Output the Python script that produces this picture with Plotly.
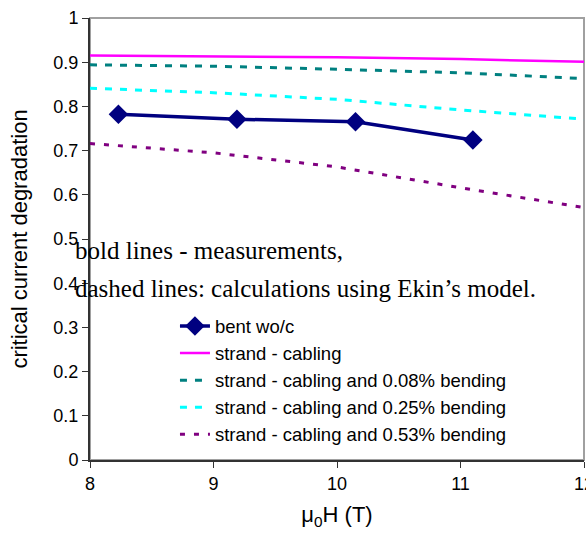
import plotly.graph_objects as go

# Data
bent_x = [8.23, 9.19, 10.15, 11.10]
bent_y = [0.782, 0.771, 0.765, 0.724]

calc_x = [8, 9, 10, 11, 12]
cabling_y = [0.915, 0.913, 0.911, 0.907, 0.901]
bend008_y = [0.894, 0.891, 0.884, 0.876, 0.863]
bend025_y = [0.841, 0.831, 0.816, 0.792, 0.771]
bend053_y = [0.716, 0.695, 0.663, 0.616, 0.571]

names = ["bent wo/c", "strand - cabling", "strand - cabling and 0.08% bending",
         "strand - cabling and 0.25% bending", "strand - cabling and 0.53% bending"]

y_ticks = [0, 0.1, 0.2, 0.3, 0.4, 0.5, 0.6, 0.7, 0.8, 0.9, 1]
y_ticklabels = ["0", "0.1", "0.2", "0.3", "0.4", "0.5", "0.6", "0.7", "0.8", "0.9", "1"]
x_ticks = [8, 9, 10, 11, 12]

fig = go.Figure()
fig.add_trace(go.Scatter(x=bent_x, y=bent_y, name=names[0], mode="lines+markers",
                         line=dict(color="#000080", width=3.5),
                         marker=dict(symbol="diamond", size=15, color="#000080"),
                         legendgroup="a"))
fig.add_trace(go.Scatter(x=calc_x, y=cabling_y, name=names[1], mode="lines",
                         line=dict(color="#FF00FF", width=2.5), legendgroup="b"))
fig.add_trace(go.Scatter(x=calc_x, y=bend008_y, name=names[2], mode="lines",
                         line=dict(color="#008080", width=3, dash="7px,8px"), legendgroup="c"))
fig.add_trace(go.Scatter(x=calc_x, y=bend025_y, name=names[3], mode="lines",
                         line=dict(color="#00FFFF", width=3, dash="7px,8px"), legendgroup="d"))
fig.add_trace(go.Scatter(x=calc_x, y=bend053_y, name=names[4], mode="lines",
                         line=dict(color="#800080", width=3, dash="5px,9px"), legendgroup="e"))

fig.add_shape(type="rect", xref="paper", yref="paper", x0=0, x1=1, y0=0, y1=1,
              line=dict(color="#a0a0a0", width=2), layer="below")

fig.add_annotation(xref="paper", yref="paper", x=-0.034, y=0.475, xanchor="left", yanchor="middle",
                   text="bold lines - measurements,", showarrow=False,
                   font=dict(family="Liberation Serif", size=25, color="black"))
fig.add_annotation(xref="paper", yref="paper", x=-0.034, y=0.388, xanchor="left", yanchor="middle",
                   text="dashed lines: calculations using Ekin\u2019s model.", showarrow=False,
                   font=dict(family="Liberation Serif", size=25, color="black"))

fig.update_layout(
    width=586, height=533,
    margin=dict(l=90, r=2, t=18, b=73, autoexpand=False),
    paper_bgcolor="white", plot_bgcolor="white",
    font=dict(family="Liberation Sans, Arial", size=18, color="black"),
    showlegend=True,
    legend=dict(x=0.172, y=0.345, xanchor="left", yanchor="top",
                bgcolor="rgba(0,0,0,0)", font=dict(size=18.5),
                traceorder="grouped", tracegroupgap=0),
    xaxis=dict(range=[8, 12], tickvals=x_ticks, ticks="outside", ticklen=6,
               showline=True, linecolor="#333", linewidth=2, tickcolor="#333",
               showgrid=False, zeroline=False, ticklabeloverflow="allow", automargin=False,
               title=dict(text="\u03bc<sub>0</sub>H (T)", font=dict(size=22), standoff=14)),
    yaxis=dict(range=[0, 1], tickvals=y_ticks, ticktext=y_ticklabels, ticks="outside", ticklen=6,
               showline=True, linecolor="#333", linewidth=2, tickcolor="#333",
               showgrid=False, zeroline=False, automargin=False,
               title=dict(text="critical current degradation", font=dict(size=22), standoff=20)),
)

fig.write_html("out.html")
